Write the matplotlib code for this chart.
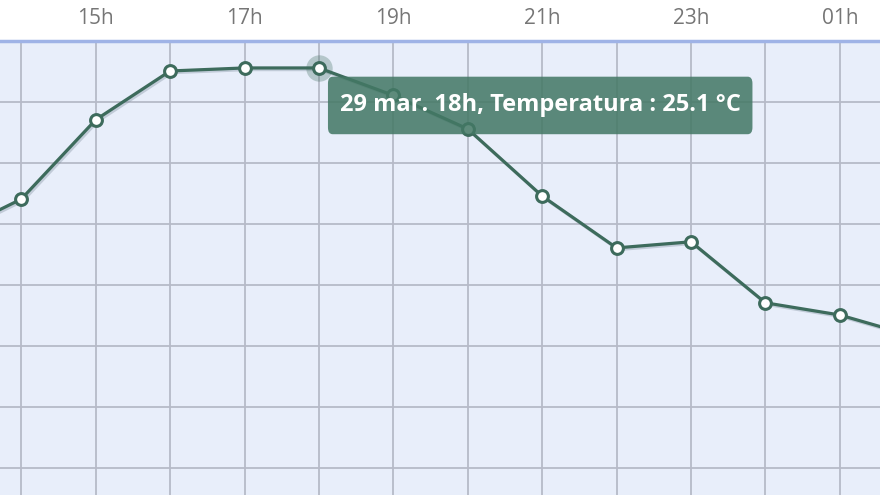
import matplotlib
matplotlib.use("Agg")
import matplotlib.pyplot as plt
import matplotlib.patheffects as pe

# Data
hours = [13, 14, 15, 16, 17, 18, 19, 20, 21, 22, 23, 24, 25, 26]
temps = [19.6, 20.8, 23.4, 25.0, 25.1, 25.1, 24.2, 23.1, 20.9, 19.2, 19.4, 17.4, 17.0, 16.3]
tick_hours = [15, 17, 19, 21, 23, 25]
tick_labels = ["15h", "17h", "19h", "21h", "23h", "01h"]
hl_hour = 18
hl_temp = 25.1
tooltip = "29 mar. 18h, Temperatura : 25.1 °C"

W, H = 880, 495
fig = plt.figure(figsize=(W / 100, H / 100), dpi=100)
fig.patch.set_facecolor("white")
top_px = 40.5
ax = fig.add_axes([0, 0, 1, (H - top_px) / H])
ax.set_facecolor("#e8eefa")

line_color = "#3d6b5c"
ax.plot(hours, temps, color=line_color, lw=2.3, zorder=3,
        path_effects=[pe.SimpleLineShadow(offset=(1.2, -1.2), shadow_color="#7a8a99", alpha=0.35),
                      pe.Normal()])
ax.plot(hours, temps, ls="none", marker="o", ms=8.5, mfc="white", mec=line_color, mew=2.2, zorder=4)
# hover halo
ax.plot([hl_hour], [hl_temp], ls="none", marker="o", ms=19, mfc=line_color, mec="none", alpha=0.3, zorder=3.5)

ax.set_xticks(range(13, 27))
ax.set_xticklabels(["" if h not in tick_hours else tick_labels[tick_hours.index(h)] for h in range(13, 27)])
ax.set_yticks([26, 24, 22, 20, 18, 16, 14, 12])
ax.set_xlim(13.714, 25.54)
ax.set_ylim(26 - (H - top_px) / 30.5, 26)
ax.xaxis.tick_top()
ax.tick_params(axis="x", length=0, pad=8, labelsize=15, labelcolor="#767676")
ax.tick_params(axis="y", length=0, labelleft=False)
for lab in ax.get_xticklabels():
    lab.set_fontfamily(["Open Sans", "DejaVu Sans"])
ax.grid(True, color="#b6bac8", lw=1.3)
ax.set_axisbelow(True)
for s in ["left", "right", "bottom"]:
    ax.spines[s].set_visible(False)
ax.spines["top"].set_color("#9fb3e6")
ax.spines["top"].set_linewidth(2.5)

ax.annotate(tooltip, xy=(hl_hour, hl_temp), xytext=(15.0, -27), textcoords="offset points",
            ha="left", va="center", fontsize=17, fontweight="bold", color="white",
            family=["Open Sans", "DejaVu Sans"], zorder=6,
            bbox=dict(boxstyle="round,pad=0.5,rounding_size=0.2", fc=(0.263, 0.471, 0.396, 0.86),
                      ec="none", mutation_aspect=1.42))

fig.savefig("out.png", dpi=100)
